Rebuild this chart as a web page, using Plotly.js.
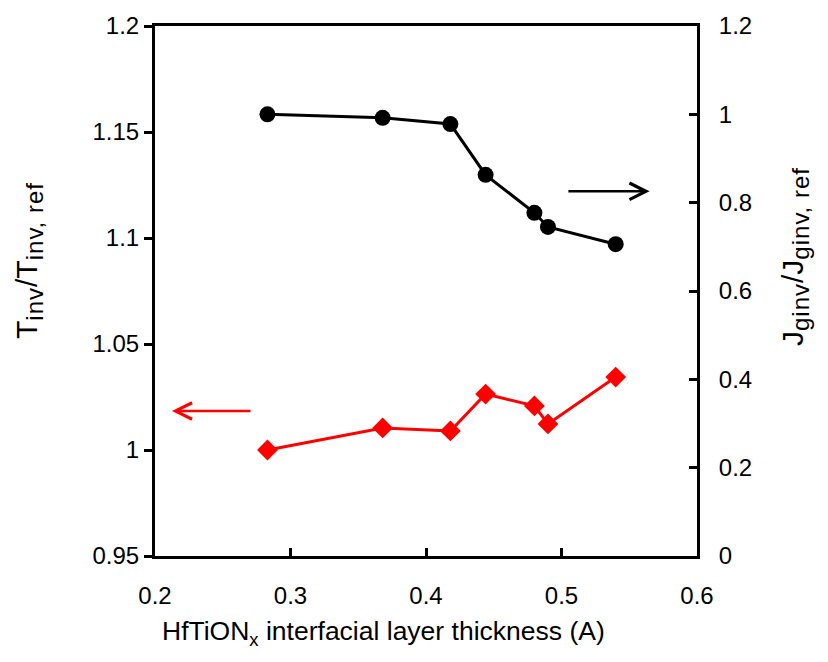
<!DOCTYPE html>
<html>
<head>
<meta charset="utf-8">
<script src="https://cdn.plot.ly/plotly-3.0.1.min.js"></script>
<style>html,body{margin:0;padding:0;background:#fff;}#chart{width:828px;height:662px;}</style>
</head>
<body>
<div id="chart"></div>
<script>
const thickness = [0.283, 0.368, 0.418, 0.444, 0.480, 0.490, 0.540];
const jginvRatio = [1.000, 0.992, 0.978, 0.863, 0.777, 0.745, 0.706];
const tinvRatio = [1.000, 1.0104, 1.0090, 1.0264, 1.0208, 1.0123, 1.0344];
const xTicks = [0.2, 0.3, 0.4, 0.5, 0.6];

const font = {family: 'Liberation Sans, Arial, sans-serif', color: '#000'};
const f = (s) => Object.assign({size: s}, font);
const sub = (t, ls) => '<sub><span style="font-size:24px;letter-spacing:' + ls + 'px">' + t + '</span></sub>';

const traces = [
  {
    x: thickness, y: tinvRatio, type: 'scatter', mode: 'lines+markers',
    line: {color: '#ff0000', width: 3},
    marker: {symbol: 'diamond', size: 16, color: '#ff0000'},
    yaxis: 'y', showlegend: false
  },
  {
    x: thickness, y: jginvRatio, type: 'scatter', mode: 'lines+markers',
    line: {color: '#000000', width: 3},
    marker: {symbol: 'circle', size: 16, color: '#000000'},
    yaxis: 'y2', showlegend: false
  }
];

const layout = {
  width: 828, height: 662,
  margin: {l: 155, r: 131, t: 26, b: 106},
  paper_bgcolor: '#fff', plot_bgcolor: '#fff',
  font: f(24),
  xaxis: {
    range: [0.2, 0.6], tickvals: xTicks, ticktext: xTicks.map(String),
    showgrid: false, zeroline: false,
    showline: true, linecolor: '#000', linewidth: 3, mirror: true,
    ticks: 'inside', ticklen: 8, tickwidth: 3, tickcolor: '#000',
    ticklabelstandoff: 16,
    tickfont: f(24)
  },
  yaxis: {
    range: [0.95, 1.2], dtick: 0.05, tick0: 0.95,
    showgrid: false, zeroline: false,
    showline: true, linecolor: '#000', linewidth: 3,
    ticks: 'outside', ticklen: 8, tickwidth: 3, tickcolor: '#000',
    tickfont: f(24)
  },
  yaxis2: {
    range: [0, 1.2], dtick: 0.2, tick0: 0,
    overlaying: 'y', side: 'right',
    showgrid: false, zeroline: false,
    showline: true, linecolor: '#000', linewidth: 3,
    ticks: 'inside', ticklen: 8, tickwidth: 3, tickcolor: '#000',
    ticklabelstandoff: 14,
    tickfont: f(24)
  },
  annotations: [
    {text: 'HfTiON<sub>x</sub> interfacial layer thickness (A)', font: f(26.5),
     xref: 'paper', yref: 'paper', x: 0.4207, y: -0.1453, xanchor: 'center', yanchor: 'middle', showarrow: false},
    {text: 'T' + sub('inv', 1) + '/T' + sub('inv, ref', 1), font: f(30), textangle: -90,
     xref: 'paper', yref: 'paper', x: -0.2325, y: 0.5585, xanchor: 'center', yanchor: 'middle', showarrow: false},
    {text: 'J' + sub('ginv', 1) + '/J' + sub('ginv, ref', 1), font: f(30), textangle: -90,
     xref: 'paper', yref: 'paper', x: 1.1808, y: 0.566, xanchor: 'center', yanchor: 'middle', showarrow: false},
    {x: 0.565, y: 1.122, ax: 0.504, ay: 1.122, xref: 'x', yref: 'y', axref: 'x', ayref: 'y',
     showarrow: true, arrowhead: 5, arrowsize: 1.3, arrowwidth: 2.5, arrowcolor: '#000', text: ''},
    {x: 0.2125, y: 1.0184, ax: 0.2716, ay: 1.0184, xref: 'x', yref: 'y', axref: 'x', ayref: 'y',
     showarrow: true, arrowhead: 5, arrowsize: 1.3, arrowwidth: 2.5, arrowcolor: '#ff0000', text: ''}
  ]
};

Plotly.newPlot('chart', traces, layout, {displayModeBar: false, staticPlot: true});
</script>
</body>
</html>
